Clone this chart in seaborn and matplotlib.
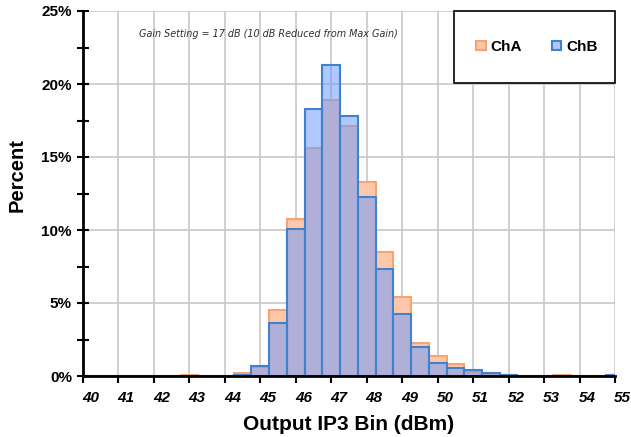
import numpy as np
import matplotlib
matplotlib.use("Agg")
import matplotlib.pyplot as plt
import matplotlib.transforms as mtransforms
from matplotlib.patches import Rectangle, Patch
from matplotlib.ticker import MultipleLocator, PercentFormatter
import seaborn as sns

# Bin centers (dBm)
bins_center = [40.0, 40.5, 41.0, 41.5, 42.0, 42.5, 43.0, 43.5, 44.0, 44.5,
               45.0, 45.5, 46.0, 46.5, 47.0, 47.5, 48.0, 48.5, 49.0, 49.5,
               50.0, 50.5, 51.0, 51.5, 52.0, 52.5, 53.0, 53.5, 54.0, 54.5, 55.0]
cha = [0.0, 0.0, 0.0, 0.02, 0.0, 0.02, 0.04, 0.0, 0.02, 0.18,
       0.62, 4.52, 10.73, 15.6, 18.9, 17.1, 13.27, 8.49, 5.39, 2.28,
       1.39, 0.8, 0.3, 0.12, 0.08, 0.03, 0.0, 0.05, 0.0, 0.0, 0.0]
chb = [0.0, 0.0, 0.0, 0.03, 0.0, 0.03, 0.0, 0.0, 0.02, 0.04,
       0.66, 3.6, 10.04, 18.26, 21.3, 17.8, 12.28, 7.35, 4.22, 2.0,
       0.89, 0.57, 0.41, 0.18, 0.08, 0.02, 0.0, 0.0, 0.0, 0.0, 0.04]
series_names = ["ChA", "ChB"]
x_ticks = list(range(40, 56))
y_ticks = [0, 5, 10, 15, 20, 25]
title_text = "Gain Setting = 17 dB (10 dB Reduced from Max Gain)"

sns.set_style("white")
plt.rcParams['font.family'] = ['Liberation Sans', 'DejaVu Sans']
plt.rcParams['text.color'] = 'black'
plt.rcParams['axes.labelcolor'] = 'black'
plt.rcParams['xtick.color'] = 'black'
plt.rcParams['ytick.color'] = 'black'

fig = plt.figure(figsize=(6.31, 4.37), dpi=100)
ax = fig.add_axes([83/631, 1-376/437, (615-83)/631, (376-11)/437])

edges = [float(e) for e in np.arange(39.75, 55.26, 0.5)]

cha_face = "#FFC8AA"
cha_edge = "#F7A470"
chb_face = (110/255, 155/255, 255/255, 0.55)
chb_edge = "#3F82D0"

df_a = {"x": bins_center, "w": cha}
df_b = {"x": bins_center, "w": chb}

n0 = len(ax.patches)
sns.histplot(data=df_a, x="x", weights="w", bins=edges, ax=ax, color=cha_face,
             alpha=1, edgecolor=cha_edge, linewidth=1.5)
n1 = len(ax.patches)
for p in ax.patches[n0:n1]:
    p.set_alpha(None)
    p.set_facecolor(cha_face)
    p.set_edgecolor(cha_edge)
sns.histplot(data=df_b, x="x", weights="w", bins=edges, ax=ax, color=chb_face[:3],
             alpha=1, edgecolor=chb_edge, linewidth=1.5)
for p in ax.patches[n1:]:
    p.set_alpha(None)
    p.set_facecolor(chb_face)
    p.set_edgecolor(chb_edge)

ax.set_xlim(40, 55)
ax.set_ylim(0, 25)
ax.set_xticks(x_ticks)
ax.set_xticklabels([str(t) for t in x_ticks])
ax.set_yticks(y_ticks)
ax.yaxis.set_minor_locator(MultipleLocator(2.5))
ax.yaxis.set_major_formatter(PercentFormatter(decimals=0))

ax.set_axisbelow(True)
ax.grid(True, which='major', color='#c8c8c8', linewidth=1.2)

for s in ['top', 'right']:
    ax.spines[s].set_visible(False)
for s in ['left', 'bottom']:
    ax.spines[s].set_color('black')
    ax.spines[s].set_linewidth(2)
    ax.spines[s].set_zorder(5)

ax.tick_params(axis='y', which='both', direction='inout', length=8, width=1.5,
               left=True, colors='black', pad=4)
ax.tick_params(axis='y', which='major', labelsize=11)
ax.tick_params(axis='x', which='major', direction='out', length=5, width=1.5,
               bottom=True, colors='black', pad=6, labelsize=11)
for lab in ax.get_yticklabels():
    lab.set_fontweight('bold')
offset = mtransforms.ScaledTranslation(7.5/100, 0, fig.dpi_scale_trans)
for lab in ax.get_xticklabels():
    lab.set_fontweight('bold')
    lab.set_fontstyle('italic')
    lab.set_transform(lab.get_transform() + offset)

ax.set_xlabel("Output IP3 Bin (dBm)", fontsize=15, fontweight='bold', color='black')
ax.xaxis.set_label_coords(0.5, (376-425)/365, transform=ax.transAxes)
ax.xaxis.label.set_va('center')
ax.set_ylabel("Percent", fontsize=14.5, fontweight='bold', color='black')
ax.yaxis.set_label_coords((17-83)/532, (376-175.5)/365)
ax.yaxis.label.set_va('center')

ax.text((268-83)/532, (376-34)/365, title_text, transform=ax.transAxes,
        ha='center', va='center', fontsize=6.9, fontstyle='italic',
        color='#303030', family=['DejaVu Sans'])

# legend frame
rect = Rectangle(((454-83)/532, (376-83)/365), (615-454)/532, (83-11)/365,
                 transform=ax.transAxes, facecolor='white', edgecolor='black',
                 linewidth=1.2, zorder=6, clip_on=False)
ax.add_patch(rect)
handles = [Patch(facecolor=cha_face, edgecolor=cha_edge, linewidth=1.5),
           Patch(facecolor=(0.68, 0.78, 1.0), edgecolor=chb_edge, linewidth=1.5)]
leg = ax.legend(handles, series_names, loc='center',
                bbox_to_anchor=((537-83)/532, (376-47)/365), ncol=2,
                frameon=False, prop={'weight': 'bold', 'size': 11},
                handlelength=0.6, handleheight=0.6, handletextpad=0.3,
                columnspacing=2.0, labelcolor='black')
leg.set_zorder(7)

fig.savefig("out.png", dpi=100)
